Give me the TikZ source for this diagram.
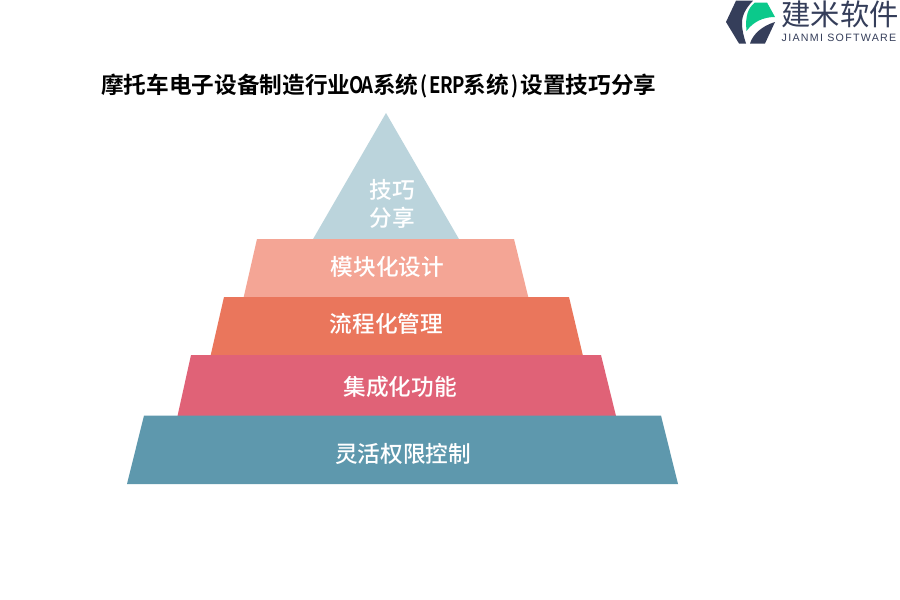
\documentclass[tikz,border=0pt]{standalone}
\usepackage{fontspec}
\usepackage{graphicx}
\setmainfont{Noto Sans CJK SC}
\newfontfamily\cjkbold{Noto Sans CJK SC Bold}
\newfontfamily\cjkmed{Noto Sans CJK SC Medium}
\newfontfamily\logolatin[LetterSpace=12]{Liberation Sans}
\newcommand{\hw}[1]{\makebox[.5em][c]{\scalebox{.82}[1]{#1}}}
\definecolor{lvlA}{HTML}{BBD4DC}
\definecolor{lvlB}{HTML}{F4A595}
\definecolor{lvlC}{HTML}{EA765C}
\definecolor{lvlD}{HTML}{E06277}
\definecolor{lvlE}{HTML}{5E98AD}
\definecolor{logoDark}{HTML}{353E5A}
\definecolor{logoGreen}{HTML}{0BC98B}
\tikzset{
  lbl/.style={text=white,font=\cjkmed\fontsize{17}{20.5}\selectfont,align=center,inner sep=0pt},
  ttl/.style={text=black,font=\cjkbold\fontsize{17}{20}\selectfont,anchor=west,inner sep=0pt},
}
\begin{document}
\begin{tikzpicture}[x=0.75pt,y=-0.75pt]
\useasboundingbox (0,0) rectangle (900,600);
\fill[white] (0,0) rectangle (900,600);
% pyramid
\fill[lvlA] (386,113) -- (459.5,240) -- (312.5,240) -- cycle;
\fill[lvlB] (257,239) -- (514,239) -- (528.5,298) -- (243.5,298) -- cycle;
\fill[lvlC] (224,297) -- (569,297) -- (583,356) -- (210.5,356) -- cycle;
\fill[lvlD] (191,355) -- (601,355) -- (616,416) -- (177.5,416) -- cycle;
\fill[lvlE] (144,415.5) -- (661,415.5) -- (678,484) -- (127,484) -- cycle;
\node[lbl] (a) at (392,204) {技巧\\分享};
\node[lbl] (b) at (387.5,267) {模块化设计};
\node[lbl] (c) at (386.5,323.5) {流程化管理};
\node[lbl] (d) at (400,387) {集成化功能};
\node[lbl] (e) at (403,454) {灵活权限控制};
\node[ttl] (t) at (101,86) {摩托车电子设备制造行业\hw{O}\hw{A}系统\hw{(}\hw{E}\hw{R}\hw{P}系统\hw{)}设置技巧分享};
% logo
\fill[logoDark] (736,0.7) -- (753,0.7) .. controls (746,8) and (742,15) .. (742,23) .. controls (742,31) and (744,37) .. (746,43.5) -- (739,43.5) -- (726,22) -- cycle;
\fill[logoDark] (750,43.5) .. controls (753,34) and (762,26) .. (775,22) -- (765,43.5) -- cycle;
\fill[logoGreen] (746.5,31) .. controls (745,16) and (748,8) .. (755,2.5) -- (767,2.5) -- (775,17) .. controls (763,17) and (753,22) .. (746.5,31) -- cycle;
\node[inner sep=0pt,text=logoDark,font=\fontsize{22}{24}\selectfont] (l1) at (840,14) {建米软件};
\node[inner sep=0pt,text=logoDark,font=\logolatin\fontsize{8}{10}\selectfont] (l2) at (839,38) {JIANMI SOFTWARE};
\end{tikzpicture}
\end{document}
